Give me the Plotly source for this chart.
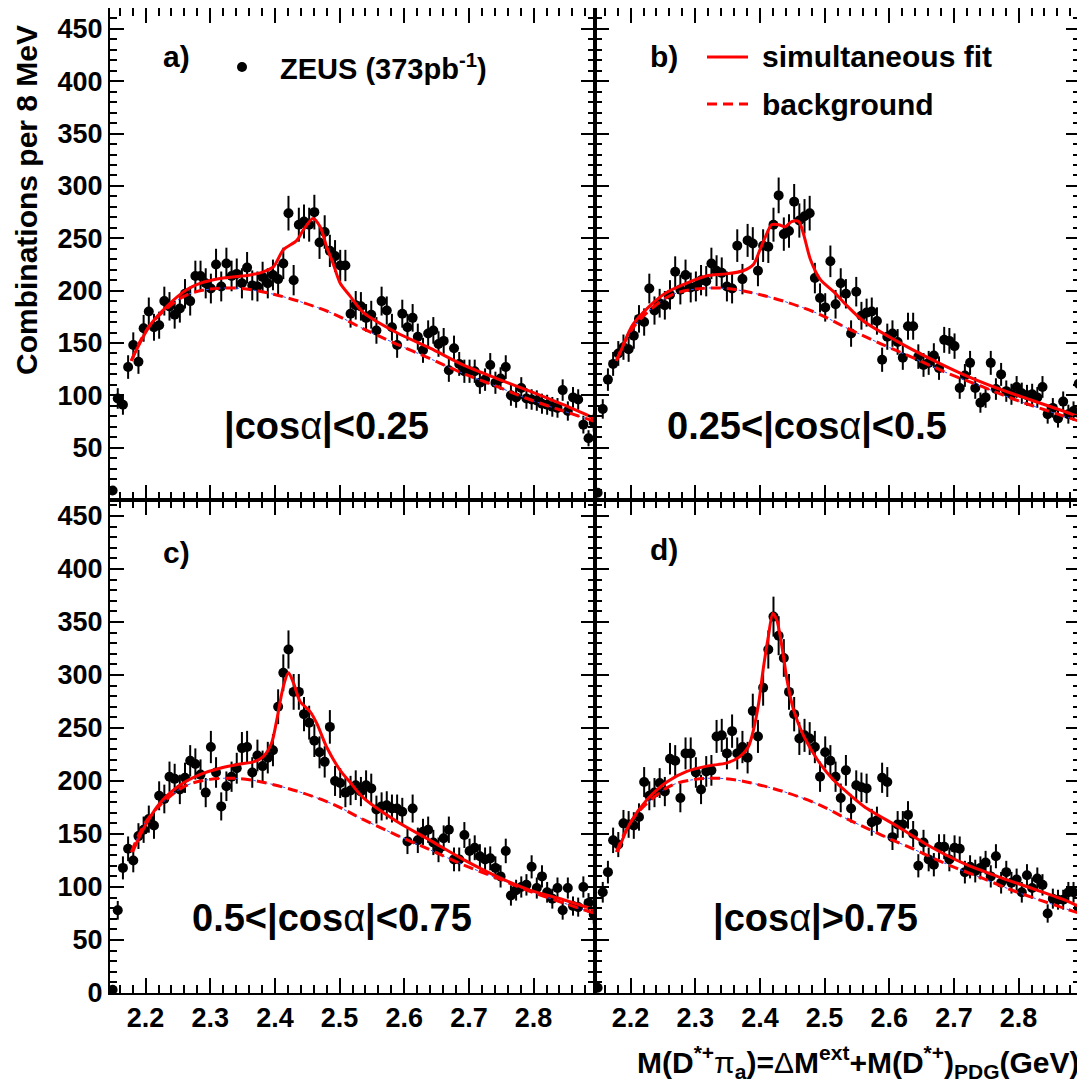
import numpy as np
import plotly.graph_objects as go

# ---------------- data ----------------
# bin centres (8 MeV bins)
bin_centers = [round(2.149 + 0.008 * k, 3) for k in range(94)]

counts_a = [9, 97, 91, 127, 148, 132, 164, 180, 165, 167, 190, 185, 177, 183, 197, 190, 214, 214, 207, 202,
            225, 204, 226, 214, 216, 207, 222, 205, 204, 213, 207, 215, 211, 226, 274, 210, 263, 266, 263, 275,
            246, 256, 238, 233, 224, 224, 178, 186, 185, 174, 177, 162, 190, 181, 165, 148, 178, 165, 174, 156,
            143, 159, 162, 149, 152, 124, 145, 130, 123, 123, 123, 112, 115, 129, 112, 116, 127, 100, 98, 107,
            97, 96, 95, 92, 91, 89, 88, 105, 85, 98, 96, 72, 59, 74]
counts_b = [7, 87, 115, 130, 140, 146, 144, 157, 173, 170, 202, 181, 188, 186, 196, 218, 201, 215, 203, 204,
            210, 209, 226, 219, 217, 204, 202, 243, 211, 248, 245, 219, 243, 242, 263, 291, 254, 257, 285, 267,
            271, 274, 212, 193, 184, 228, 187, 207, 197, 159, 199, 176, 179, 180, 171, 134, 156, 159, 151, 136,
            166, 166, 137, 129, 131, 138, 126, 153, 152, 147, 107, 119, 131, 107, 93, 98, 131, 106, 120, 104,
            101, 108, 102, 100, 101, 98, 108, 82, 88, 78, 94, 82, 85, 111]
counts_c = [3, 78, 118, 136, 125, 148, 154, 164, 158, 186, 183, 204, 202, 192, 203, 219, 216, 206, 189, 232,
            208, 176, 195, 204, 212, 231, 232, 208, 224, 214, 222, 229, 270, 302, 324, 284, 284, 263, 255, 238,
            227, 218, 251, 200, 198, 189, 191, 196, 190, 196, 193, 173, 176, 177, 174, 174, 171, 143, 174, 144,
            152, 154, 142, 135, 146, 154, 126, 126, 149, 134, 137, 129, 126, 127, 118, 110, 134, 92, 97, 100,
            102, 119, 99, 110, 95, 89, 99, 78, 99, 82, 81, 100, 85, 74]
counts_d = [5, 95, 114, 144, 140, 160, 159, 158, 166, 199, 186, 189, 198, 190, 221, 219, 184, 226, 226, 208,
            192, 209, 210, 242, 243, 226, 247, 226, 232, 222, 266, 242, 288, 324, 355, 337, 316, 284, 263, 240,
            243, 240, 232, 204, 227, 219, 204, 184, 210, 174, 196, 194, 193, 161, 163, 203, 199, 147, 159, 159,
            168, 150, 120, 142, 126, 121, 138, 138, 126, 137, 136, 114, 119, 115, 118, 123, 110, 129, 104, 114,
            104, 107, 95, 111, 99, 108, 102, 75, 89, 88, 88, 95, 95, 80]

# simultaneous fit curves
fit_a_x = [2.178, 2.184, 2.207, 2.233, 2.264, 2.284, 2.320, 2.362, 2.382, 2.398, 2.413, 2.434, 2.444, 2.459,
           2.470, 2.480, 2.490, 2.501, 2.516, 2.537, 2.588, 2.640, 2.691, 2.743, 2.794, 2.846, 2.887, 2.895]
fit_a_y = [133, 141, 167, 185, 201, 207, 212, 215, 218, 223, 239, 248, 258, 269,
           261, 242, 226, 207, 195, 179, 160, 145, 129, 116, 104, 91, 80, 78]
fit_b_x = [2.178, 2.184, 2.203, 2.229, 2.255, 2.286, 2.317, 2.348, 2.374, 2.390, 2.400, 2.411, 2.418, 2.429,
           2.439, 2.449, 2.460, 2.467, 2.478, 2.493, 2.514, 2.534, 2.560, 2.611, 2.663, 2.714, 2.766, 2.817,
           2.869, 2.895]
fit_b_y = [133, 141, 167, 185, 198, 207, 214, 216, 219, 225, 239, 255, 263, 263,
           261, 266, 266, 255, 230, 211, 199, 186, 171, 152, 135, 120, 107, 96, 85, 79]
fit_c_x = [2.180, 2.196, 2.222, 2.253, 2.284, 2.315, 2.346, 2.367, 2.382, 2.395, 2.403, 2.413, 2.421, 2.429,
           2.439, 2.455, 2.465, 2.480, 2.501, 2.516, 2.537, 2.588, 2.640, 2.691, 2.743, 2.794, 2.846, 2.887,
           2.895]
fit_c_y = [133, 154, 179, 196, 206, 212, 216, 218, 223, 236, 258, 289, 302, 292,
           275, 265, 254, 232, 210, 199, 184, 162, 144, 126, 110, 97, 88, 80, 78]
fit_d_x = [2.180, 2.199, 2.225, 2.256, 2.287, 2.318, 2.349, 2.369, 2.382, 2.390, 2.398, 2.405, 2.413, 2.420,
           2.426, 2.434, 2.442, 2.452, 2.468, 2.489, 2.512, 2.541, 2.561, 2.613, 2.664, 2.716, 2.767, 2.819,
           2.870, 2.895]
fit_d_y = [133, 160, 182, 199, 209, 214, 217, 223, 232, 248, 273, 305, 336, 358,
           352, 327, 295, 267, 242, 220, 202, 186, 176, 157, 138, 122, 110, 99, 88, 81]

# background (common shape of the simultaneous fit)
bkg_x = [2.178, 2.191, 2.207, 2.233, 2.264, 2.300, 2.336, 2.367, 2.398, 2.439, 2.490, 2.537, 2.588, 2.640,
         2.691, 2.743, 2.794, 2.846, 2.895]
bkg_y = [133, 151, 167, 183, 196, 201.5, 202.5, 200.5, 196.5, 189.5, 178, 163.5, 149, 135,
         121, 108.5, 96, 85, 75]

panel_tags = ["a)", "b)", "c)", "d)"]
panel_cuts = ["<b>|cos</b>α<b>|&lt;0.25</b>", "<b>0.25&lt;|cos</b>α<b>|&lt;0.5</b>",
              "<b>0.5&lt;|cos</b>α<b>|&lt;0.75</b>", "<b>|cos</b>α<b>|&gt;0.75</b>"]
y_ticks_top = [50, 100, 150, 200, 250, 300, 350, 400, 450]
y_ticks_bottom = [0, 50, 100, 150, 200, 250, 300, 350, 400, 450]
x_ticks = [2.2, 2.3, 2.4, 2.5, 2.6, 2.7, 2.8]

# ---------------- figure ----------------
# page body has an 8px margin; figure is sized/positioned to compensate
OFF = 8
W, H = 1085 - OFF, 1091 - 2 * OFF
def px(x): return (x - OFF) / W
def py(y): return (H - (y - OFF)) / H

fig = go.Figure()
counts = [counts_a, counts_b, counts_c, counts_d]
fits = [(fit_a_x, fit_a_y), (fit_b_x, fit_b_y), (fit_c_x, fit_c_y), (fit_d_x, fit_d_y)]
for i in range(4):
    xa = "x" if i == 0 else f"x{i+1}"
    ya = "y" if i == 0 else f"y{i+1}"
    c = np.array(counts[i], dtype=float)
    fig.add_trace(go.Scatter(
        x=bin_centers, y=c, mode="markers", xaxis=xa, yaxis=ya,
        marker=dict(color="black", size=10),
        error_y=dict(type="data", array=np.sqrt(c), color="black", thickness=2, width=0),
        showlegend=False, cliponaxis=True))
    fig.add_trace(go.Scatter(
        x=bkg_x, y=bkg_y, mode="lines", xaxis=xa, yaxis=ya,
        line=dict(color="#3355ff", width=1, dash="dot", shape="spline"), showlegend=False))
    fig.add_trace(go.Scatter(
        x=bkg_x, y=bkg_y, mode="lines", xaxis=xa, yaxis=ya,
        line=dict(color="#ff0000", width=3, dash="10px,6px", shape="spline"), showlegend=False))
    fig.add_trace(go.Scatter(
        x=fits[i][0], y=fits[i][1], mode="lines", xaxis=xa, yaxis=ya,
        line=dict(color="#ff0000", width=3, shape="spline", smoothing=0.8), showlegend=False))

xdom_l = [px(110), px(595)]
xdom_r = [px(595), px(1080)]
ydom_t = [py(500), py(2 + OFF) if False else min(1.0, py(2))]
ydom_b = [py(993), py(500)]

tickfont = dict(family="Liberation Sans", size=27, color="black", weight="bold")

def xaxis(dom, anchor, labels):
    return dict(domain=dom, anchor=anchor, range=[2.145, 2.895],
                tickmode="array", tickvals=x_ticks, ticktext=[f"{v:.1f}" for v in x_ticks],
                showticklabels=labels, ticks="inside", ticklen=15, tickwidth=2, tickcolor="black",
                minor=dict(dtick=0.02, tick0=2.0, ticks="inside", ticklen=8, tickwidth=2, tickcolor="black"),
                showline=True, linewidth=2, linecolor="black", mirror="ticks",
                showgrid=False, zeroline=False, tickfont=tickfont)

def yaxis(dom, anchor, rng, tv, labels):
    return dict(domain=dom, anchor=anchor, range=rng,
                tickmode="array", tickvals=tv, ticktext=[str(v) for v in tv],
                showticklabels=labels, ticks="inside", ticklen=14, tickwidth=2, tickcolor="black",
                minor=dict(dtick=10, tick0=0, ticks="inside", ticklen=7, tickwidth=2, tickcolor="black"),
                showline=True, linewidth=2, linecolor="black", mirror="ticks",
                showgrid=False, zeroline=False, tickfont=tickfont)

fig.update_layout(
    width=W, height=H, margin=dict(l=0, r=0, t=0, b=0, autoexpand=False),
    paper_bgcolor="white", plot_bgcolor="white",
    xaxis=xaxis(xdom_l, "y", False),
    xaxis2=xaxis(xdom_r, "y2", False),
    xaxis3=xaxis(xdom_l, "y3", True),
    xaxis4=xaxis(xdom_r, "y4", True),
    yaxis=yaxis(ydom_t, "x", [0, 470], y_ticks_top, True),
    yaxis2=yaxis(ydom_t, "x2", [0, 470], y_ticks_top, False),
    yaxis3=yaxis(ydom_b, "x3", [0, 465], y_ticks_bottom, True),
    yaxis4=yaxis(ydom_b, "x4", [0, 465], y_ticks_bottom, False),
    font=dict(family="Liberation Sans", color="black"),
)

ann = []
tag_pos = [(176, 57), (664, 57), (176, 552), (664, 549)]
cut_pos = [(326, 427), (807, 427), (332, 918), (815, 918)]
for i in range(4):
    ann.append(dict(x=px(tag_pos[i][0]), y=py(tag_pos[i][1]), xref="paper", yref="paper",
                    text=f"<b>{panel_tags[i]}</b>", showarrow=False, xanchor="center", yanchor="middle",
                    font=dict(size=30, family="Liberation Sans", color="black")))
    ann.append(dict(x=px(cut_pos[i][0]), y=py(cut_pos[i][1]), xref="paper", yref="paper",
                    text=panel_cuts[i], showarrow=False, xanchor="center", yanchor="middle",
                    font=dict(size=38, family="Liberation Sans", color="black")))
# legend texts
ann.append(dict(x=px(278), y=py(67), xref="paper", yref="paper", showarrow=False,
                text="<b>ZEUS (373pb<sup>-1</sup>)</b>", xanchor="left", yanchor="middle",
                font=dict(size=29, family="Liberation Sans", color="black")))
ann.append(dict(x=px(760), y=py(57), xref="paper", yref="paper", showarrow=False,
                text="<b>simultaneous fit</b>", xanchor="left", yanchor="middle",
                font=dict(size=30, family="Liberation Sans", color="black")))
ann.append(dict(x=px(760), y=py(104), xref="paper", yref="paper", showarrow=False,
                text="<b>background</b>", xanchor="left", yanchor="middle",
                font=dict(size=30, family="Liberation Sans", color="black")))
# axis titles
ann.append(dict(x=px(27), y=py(200), xref="paper", yref="paper", showarrow=False,
                text="<b>Combinations per 8 MeV</b>", textangle=-90, xanchor="center", yanchor="middle",
                font=dict(size=30, family="Liberation Sans", color="black")))
ann.append(dict(x=px(1082), y=py(1062), xref="paper", yref="paper", showarrow=False,
                text="<b>M(D<sup>*+</sup></b>π<b><sub>a</sub>)=</b>Δ<b>M<sup>ext</sup>+M(D<sup>*+</sup>)<sub>PDG</sub>(GeV)</b>",
                xanchor="right", yanchor="middle",
                font=dict(size=30, family="Liberation Sans", color="black")))
fig.update_layout(annotations=ann)

shapes = [
    dict(type="circle", xref="paper", yref="paper", x0=px(237), x1=px(247), y0=py(72), y1=py(62),
         fillcolor="black", line=dict(color="black", width=0)),
    dict(type="line", xref="paper", yref="paper", x0=px(707), x1=px(748), y0=py(57), y1=py(57),
         line=dict(color="#ff0000", width=3)),
    dict(type="line", xref="paper", yref="paper", x0=px(707), x1=px(748), y0=py(104), y1=py(104),
         line=dict(color="#ff0000", width=3, dash="10px,6px")),
]
fig.update_layout(shapes=shapes)

fig.write_html("out.html")
